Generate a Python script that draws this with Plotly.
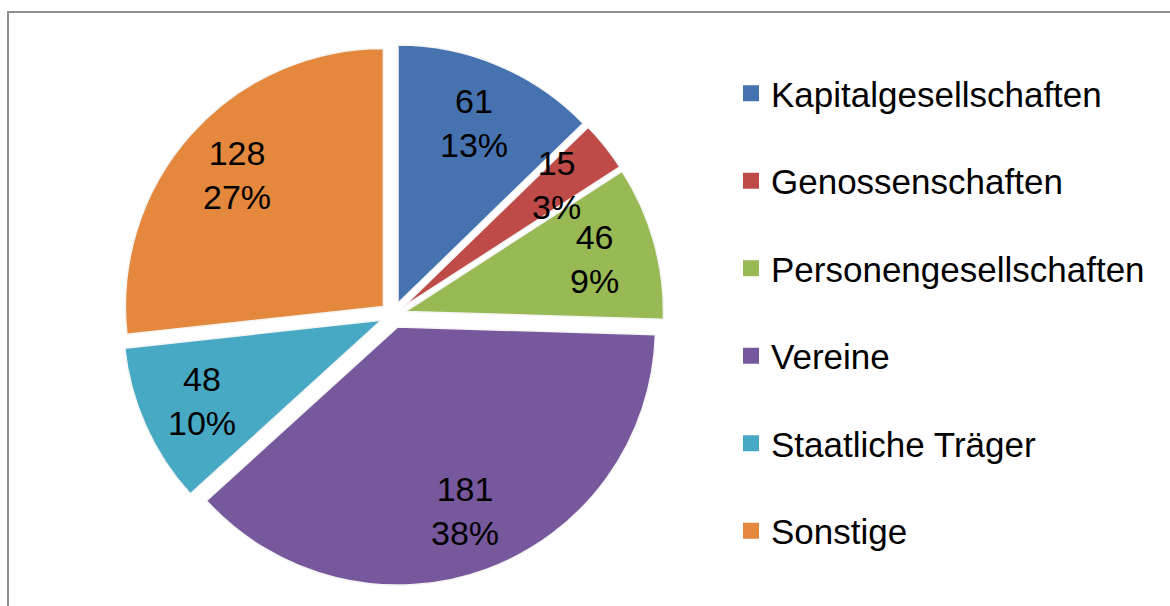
import math
import plotly.graph_objects as go

categories = ["Kapitalgesellschaften", "Genossenschaften", "Personengesellschaften",
              "Vereine", "Staatliche Träger", "Sonstige"]
values = [61, 15, 46, 181, 48, 128]
percent_labels = ["13%", "3%", "9%", "38%", "10%", "27%"]
colors = ["#4672B0", "#BE4B48", "#98B954", "#77589C", "#48A9C4", "#E3883D"]

W, H = 1170, 606
FONT = "Liberation Sans, Arial, sans-serif"

# pie geometry (pixels)
CX, CY = 393, 315
R = 258
PULL = 0.05
half = R * (1 + PULL)

fig = go.Figure()
fig.add_trace(go.Pie(
    labels=categories,
    values=values,
    textinfo="none",
    sort=False,
    direction="clockwise",
    rotation=0,
    pull=PULL,
    marker=dict(colors=colors, line=dict(color="#F4F4F4", width=1.5)),
    domain=dict(x=[(CX - half) / W, (CX + half) / W],
                y=[(H - CY - half) / H, (H - CY + half) / H]),
    showlegend=False,
    hoverinfo="label+value+percent",
))

# data labels placed at the middle angle of each slice
total = sum(values)
cum = 0
for v, p in zip(values, percent_labels):
    mid = (cum + v / 2) / total * 2 * math.pi
    cum += v
    dx, dy = math.sin(mid), -math.cos(mid)
    rr = PULL * R + 0.76 * R
    px, py = CX + dx * rr, CY + dy * rr
    fig.add_annotation(
        x=px / W, y=1 - py / H, xref="paper", yref="paper",
        text=f"{v}<br>{p}", showarrow=False,
        font=dict(family=FONT, size=34, color="black"),
        xanchor="center", yanchor="middle", align="center",
    )

# legend entries (one per category, separate groups for spacing)
for cat, col in zip(categories, colors):
    fig.add_trace(go.Scatter(
        x=[None], y=[None], mode="markers", name=cat,
        marker=dict(symbol="square", size=20, color=col),
        legendgroup=cat, showlegend=True, hoverinfo="skip",
    ))

fig.update_layout(
    width=W, height=H,
    margin=dict(l=0, r=0, t=0, b=0),
    paper_bgcolor="white",
    plot_bgcolor="white",
    xaxis=dict(visible=False),
    yaxis=dict(visible=False),
    legend=dict(
        x=731 / W, y=(H - 64) / H, xanchor="left", yanchor="top",
        font=dict(family=FONT, size=35, color="black"),
        tracegroupgap=39,
        bgcolor="rgba(0,0,0,0)",
    ),
    shapes=[dict(type="rect", xref="paper", yref="paper",
                 x0=8 / W, x1=1.02, y0=-0.05, y1=(H - 12) / H,
                 line=dict(color="#8F8F8F", width=2), fillcolor="rgba(0,0,0,0)")],
)

fig.write_html("out.html", config={"displayModeBar": False},
               post_script="document.body.style.margin='0';")
